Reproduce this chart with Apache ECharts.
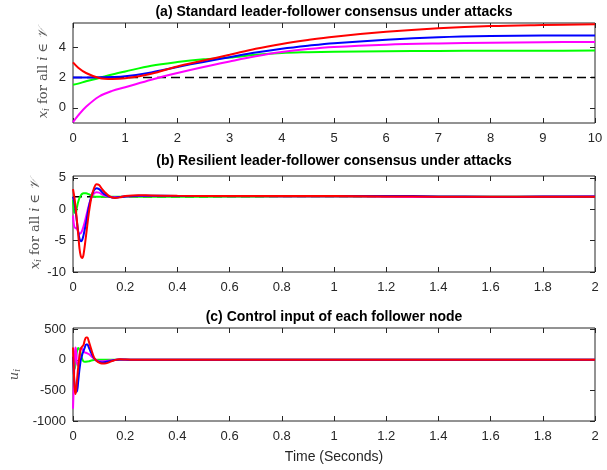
<!DOCTYPE html>
<html>
<head>
<meta charset="utf-8">
<script src="https://cdn.jsdelivr.net/npm/echarts@6/dist/echarts.min.js"></script>
<style>
  html, body { margin: 0; padding: 0; background: #fff; }
  #chart { width: 607px; height: 470px; }
</style>
</head>
<body>
<div id="chart"></div>
<script>
// (a) standard consensus, t in seconds
var tA = [0, 0.1, 0.25, 0.5, 0.75, 1, 1.5, 2, 2.5, 3, 3.5, 4, 4.5, 5, 6, 7, 8, 9, 10];
var blueA = [2.0, 2.0, 2.0, 2.02, 2.03, 2.08, 2.34, 2.7, 3.03, 3.34, 3.65, 3.9, 4.1, 4.27, 4.5, 4.66, 4.74, 4.77, 4.78];
var redA = [3.0, 2.65, 2.3, 1.97, 1.9, 1.95, 2.25, 2.73, 3.12, 3.5, 3.9, 4.22, 4.48, 4.7, 5.02, 5.25, 5.4, 5.47, 5.52];
var greenA = [1.53, 1.6, 1.75, 1.97, 2.2, 2.4, 2.78, 3.02, 3.2, 3.32, 3.5, 3.62, 3.67, 3.7, 3.74, 3.76, 3.77, 3.77, 3.78];
var magentaA = [-0.95, -0.5, 0.07, 0.75, 1.12, 1.36, 1.86, 2.3, 2.7, 3.06, 3.4, 3.68, 3.88, 4.02, 4.17, 4.25, 4.3, 4.33, 4.35];
var leaderT_A = [0, 10];
var leaderA = [2, 2];

// (b) resilient consensus
var tB = [0, 0.005, 0.01, 0.015, 0.02, 0.025, 0.03, 0.035, 0.04, 0.05, 0.06, 0.07, 0.08, 0.09, 0.1, 0.11, 0.12, 0.14, 0.16, 0.18, 0.2, 0.25, 0.3, 0.4, 0.6, 0.8, 1.0, 1.2, 1.4, 1.6, 1.8, 2.0];
var redB = [3.2, 2.0, 0.3, -1.8, -4.0, -6.3, -7.5, -7.75, -7.3, -4.2, -0.8, 1.8, 3.3, 4.0, 3.85, 3.3, 2.8, 2.05, 1.8, 1.9, 2.1, 2.25, 2.2, 2.15, 2.12, 2.1, 2.1, 2.05, 2.0, 2.0, 2.0, 2.0];
var blueB = [2.0, 1.2, -0.3, -2.0, -3.6, -4.7, -5.1, -4.9, -4.2, -2.2, 0.2, 2.0, 3.0, 3.35, 3.2, 2.8, 2.4, 2.0, 1.85, 1.95, 2.05, 2.15, 2.15, 2.12, 2.1, 2.1, 2.1, 2.12, 2.05, 2.0, 2.02, 2.05];
var magentaB = [-1.0, -2.8, -3.0, -3.1, -3.6, -3.9, -3.8, -3.4, -2.8, -1.2, 0.5, 1.8, 2.5, 2.7, 2.65, 2.4, 2.2, 2.0, 1.9, 1.95, 2.05, 2.1, 2.1, 2.1, 2.08, 2.05, 2.05, 2.0, 1.95, 1.95, 2.0, 2.02];
var greenB = [1.5, -0.5, -0.6, 0.3, 1.2, 1.8, 2.2, 2.45, 2.55, 2.55, 2.4, 2.2, 2.05, 2.0, 1.98, 2.0, 2.0, 2.0, 2.0, 2.0, 2.0, 2.0, 2.0, 2.0, 2.0, 2.0, 2.0, 2.0, 2.0, 2.0, 2.0, 2.0];
var leaderT_B = [0, 2];
var leaderB = [2, 2];

// (c) control input
var tC = [0, 0.003, 0.006, 0.009, 0.012, 0.015, 0.02, 0.025, 0.03, 0.035, 0.04, 0.045, 0.05, 0.055, 0.06, 0.07, 0.08, 0.09, 0.1, 0.11, 0.12, 0.14, 0.16, 0.18, 0.2, 0.22, 0.25, 0.3, 0.5, 1, 1.5, 2];
var redC = [200, -150, -450, -560, -500, -352, -120, 60, 180, 215, 240, 320, 365, 365, 310, 170, 45, -15, -45, -60, -60, -38, -5, 8, 6, 3, 0, 0, 0, 0, 0, 0];
var blueC = [50, -200, -400, -500, -520, -520, -350, -150, 0, 80, 140, 200, 250, 250, 210, 110, 30, -15, -35, -42, -38, -22, -3, 6, 4, 2, 0, 0, 0, 0, 0, 0];
var magentaC = [-800, -400, 0, 200, 150, -50, -100, 80, 190, 180, 140, 120, 115, 105, 95, 60, 20, -10, -22, -25, -22, -12, -2, 4, 3, 1, 0, 0, 0, 0, 0, 0];
var greenC = [0, -120, -150, -80, 40, 130, 195, 170, 100, 20, -25, -30, -30, -28, -25, -12, -4, 0, 0, 0, 0, 0, 0, 0, 0, 0, 0, 0, 0, 0, 0, 0];

var ticksA = [0, 2, 4];
var ticksB = [-10, -5, 0, 5];
var ticksC = [-1000, -500, 0, 500];

var chart = echarts.init(document.getElementById("chart"));

function pairs(t, v) {
    return t.map(function(x, i) { return [x, v[i]]; });
}

var axisColor = "#262626";
var labelFont = { color: axisColor, fontSize: 13, fontFamily: "Liberation Sans" };

function xAxisFor(grid, max, interval, top) {
    return {
        type: "value", gridIndex: grid, min: 0, max: max, interval: interval,
        position: top ? "top" : "bottom",
        axisLine: { show: false, onZero: false },
        axisTick: { show: true, inside: true, length: 5, lineStyle: { color: axisColor } },
        axisLabel: Object.assign({ show: !top, margin: 9 }, labelFont),
        splitLine: { show: false }
    };
}

function yAxisFor(grid, min, max, ticks, right, name, gap) {
    var ax = {
        type: "value", gridIndex: grid, min: min, max: max,
        position: right ? "right" : "left",
        axisLine: { show: false, onZero: false },
        axisTick: { show: true, inside: true, length: 5, customValues: ticks, lineStyle: { color: axisColor } },
        axisLabel: Object.assign({
            show: !right, margin: 7, customValues: ticks,
            formatter: function(v) { return String(v); }
        }, labelFont),
        splitLine: { show: false }
    };
    if (name) {
        ax.name = name;
        ax.nameLocation = "middle";
        ax.nameRotate = 90;
        ax.nameGap = gap;
        ax.nameMoveOverlap = false;
        ax.nameTextStyle = {
            color: "#555",
            rich: {
                it: { fontFamily: "DejaVu Serif", fontStyle: "italic", fontSize: 13, color: "#555" },
                sub: { fontFamily: "DejaVu Serif", fontStyle: "italic", fontSize: 9, color: "#555", padding: [6, 0, 0, 0] },
                rm: { fontFamily: "DejaVu Serif", fontSize: 13, color: "#555" },
                cal: { fontFamily: "DejaVu Serif", fontStyle: "italic", fontSize: 13, color: "#555" }
            }
        };
    }
    return ax;
}

function line(name, color, x, y, t, v, dashed) {
    return {
        name: name, type: "line", xAxisIndex: x, yAxisIndex: y,
        data: pairs(t, v), showSymbol: false, smooth: dashed ? false : 0.35,
        lineStyle: { color: color, width: dashed ? 1.6 : 2, type: dashed ? [9, 5] : "solid" },
        z: dashed ? 1 : 2
    };
}

var xLabel = "{it|x}{sub|i}{rm| for all }{it|i}{rm| \u2208 }{cal|\uD835\uDCB1}";

var option = {
    animation: false,
    backgroundColor: "#fff",
    grid: [
        { left: 73, right: 12, top: 23, height: 100, show: true, borderColor: axisColor, borderWidth: 1, outerBoundsMode: "none" },
        { left: 73, right: 12, top: 176, height: 96, show: true, borderColor: axisColor, borderWidth: 1, outerBoundsMode: "none" },
        { left: 73, right: 12, top: 328, height: 93, show: true, borderColor: axisColor, borderWidth: 1, outerBoundsMode: "none" }
    ],
    graphic: [
        { type: "text", x: 334, y: 12, style: { text: "(a) Standard leader-follower consensus under attacks", textAlign: "center", textVerticalAlign: "middle", font: "bold 14px 'Liberation Sans'", fill: "#000" } },
        { type: "text", x: 334, y: 161, style: { text: "(b) Resilient leader-follower consensus under attacks", textAlign: "center", textVerticalAlign: "middle", font: "bold 14px 'Liberation Sans'", fill: "#000" } },
        { type: "text", x: 334, y: 317, style: { text: "(c) Control input of each follower node", textAlign: "center", textVerticalAlign: "middle", font: "bold 14px 'Liberation Sans'", fill: "#000" } },
        { type: "text", x: 334, y: 457, style: { text: "Time (Seconds)", textAlign: "center", textVerticalAlign: "middle", font: "14px 'Liberation Sans'", fill: axisColor } }
    ],
    xAxis: [
        xAxisFor(0, 10, 1, false),
        xAxisFor(1, 2, 0.2, false),
        xAxisFor(2, 2, 0.2, false),
        xAxisFor(0, 10, 1, true),
        xAxisFor(1, 2, 0.2, true),
        xAxisFor(2, 2, 0.2, true)
    ],
    yAxis: [
        yAxisFor(0, -1, 5.6, ticksA, false, xLabel, 22),
        yAxisFor(1, -10, 5.3, ticksB, false, xLabel, 30),
        yAxisFor(2, -1000, 520, ticksC, false, "{it|u}{sub|i}", 51),
        yAxisFor(0, -1, 5.6, ticksA, true),
        yAxisFor(1, -10, 5.3, ticksB, true),
        yAxisFor(2, -1000, 520, ticksC, true)
    ],
    series: [
        line("leader", "#000", 0, 0, leaderT_A, leaderA, true),
        line("green", "#00ff00", 0, 0, tA, greenA),
        line("magenta", "#ff00ff", 0, 0, tA, magentaA),
        line("blue", "#0000ff", 0, 0, tA, blueA),
        line("red", "#ff0000", 0, 0, tA, redA),

        line("leader", "#000", 1, 1, leaderT_B, leaderB, true),
        line("green", "#00ff00", 1, 1, tB, greenB),
        line("magenta", "#ff00ff", 1, 1, tB, magentaB),
        line("blue", "#0000ff", 1, 1, tB, blueB),
        line("red", "#ff0000", 1, 1, tB, redB),

        line("green", "#00ff00", 2, 2, tC, greenC),
        line("magenta", "#ff00ff", 2, 2, tC, magentaC),
        line("blue", "#0000ff", 2, 2, tC, blueC),
        line("red", "#ff0000", 2, 2, tC, redC)
    ]
};
chart.setOption(option);
</script>
</body>
</html>
